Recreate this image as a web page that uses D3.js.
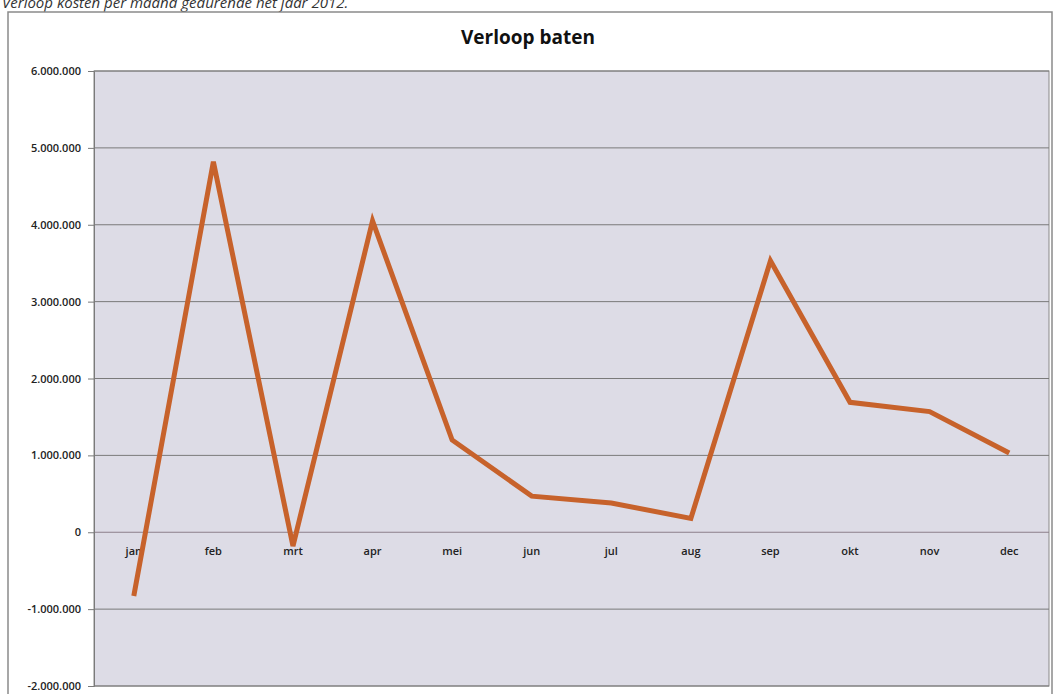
<!DOCTYPE html>
<html>
<head>
<meta charset="utf-8">
<script src="https://cdn.jsdelivr.net/npm/d3@7"></script>
<style>
  body { margin: 0; background: #fff; }
  svg { display: block; }
</style>
</head>
<body>
<div id="chart"></div>
<script>
const months = ["jan", "feb", "mrt", "apr", "mei", "jun", "jul", "aug", "sep", "okt", "nov", "dec"];
const baten = [-830000, 4820000, -180000, 4050000, 1200000, 470000, 380000, 180000, 3530000, 1690000, 1570000, 1030000];
const yTicks = [-2000000, -1000000, 0, 1000000, 2000000, 3000000, 4000000, 5000000, 6000000];

const width = 1054;
const height = 694;
const plot = { left: 94, right: 1049, top: 71, bottom: 686 };

const svg = d3.select("#chart")
    .append("svg")
    .attr("width", width)
    .attr("height", height);

// bijschrift bovenaan (in het origineel deels afgesneden)
svg.append("text")
    .attr("x", 2)
    .attr("y", 8)
    .attr("font-family", "Open Sans, sans-serif")
    .attr("font-style", "italic")
    .attr("font-size", "15px")
    .attr("fill", "#333")
    .text("Verloop kosten per maand gedurende het jaar 2012.");

// kader van de grafiek
svg.append("rect")
    .attr("x", 8)
    .attr("y", 12)
    .attr("width", 1044)
    .attr("height", 700)
    .attr("fill", "#fff")
    .attr("stroke", "#8a8a8a")
    .attr("stroke-width", 1.5);

svg.append("text")
    .attr("x", 528)
    .attr("y", 44)
    .attr("text-anchor", "middle")
    .attr("font-family", "Open Sans, sans-serif")
    .attr("font-weight", "bold")
    .attr("font-size", "19px")
    .attr("fill", "#111")
    .text("Verloop baten");

const x = d3.scaleBand()
    .domain(months)
    .range([plot.left, plot.right]);

const y = d3.scaleLinear()
    .domain([-2000000, 6000000])
    .range([plot.bottom, plot.top]);

// plotvlak
svg.append("rect")
    .attr("x", plot.left)
    .attr("y", plot.top)
    .attr("width", plot.right - plot.left)
    .attr("height", plot.bottom - plot.top)
    .attr("fill", "#dddce6")
    .attr("stroke", "#888")
    .attr("stroke-width", 1);

// rasterlijnen
svg.append("g")
    .selectAll("line")
    .data(yTicks)
    .join("line")
    .attr("x1", plot.left)
    .attr("x2", plot.right)
    .attr("y1", d => y(d))
    .attr("y2", d => y(d))
    .attr("stroke", d => d === 0 ? "#8c7f8a" : "#7a7a7a")
    .attr("stroke-width", 1);

const fmt = d => d === 0 ? "0" : d3.format(",")(d).replace(/,/g, ".").replace("−", "-");

const yAxis = svg.append("g")
    .attr("transform", `translate(${plot.left},0)`)
    .call(d3.axisLeft(y).tickValues(yTicks).tickSize(6).tickPadding(7).tickFormat(fmt));
yAxis.select(".domain").attr("stroke", "#7a7a7a");
yAxis.selectAll(".tick line").attr("stroke", "#7a7a7a");
yAxis.selectAll("text")
    .attr("font-family", "Open Sans, sans-serif")
    .attr("font-weight", "600")
    .attr("font-size", "11px")
    .attr("fill", "#222");

// maandlabels onder de nullijn
svg.append("g")
    .selectAll("text")
    .data(months)
    .join("text")
    .attr("x", d => x(d) + x.bandwidth() / 2)
    .attr("y", y(0) + 23)
    .attr("text-anchor", "middle")
    .attr("font-family", "Open Sans, sans-serif")
    .attr("font-weight", "600")
    .attr("font-size", "11px")
    .attr("fill", "#222")
    .text(d => d);

const line = d3.line()
    .x((d, i) => x(months[i]) + x.bandwidth() / 2)
    .y(d => y(d));

svg.append("path")
    .datum(baten)
    .attr("d", line)
    .attr("fill", "none")
    .attr("stroke", "#c7622b")
    .attr("stroke-width", 5)
    .attr("stroke-linejoin", "miter");
</script>
</body>
</html>
